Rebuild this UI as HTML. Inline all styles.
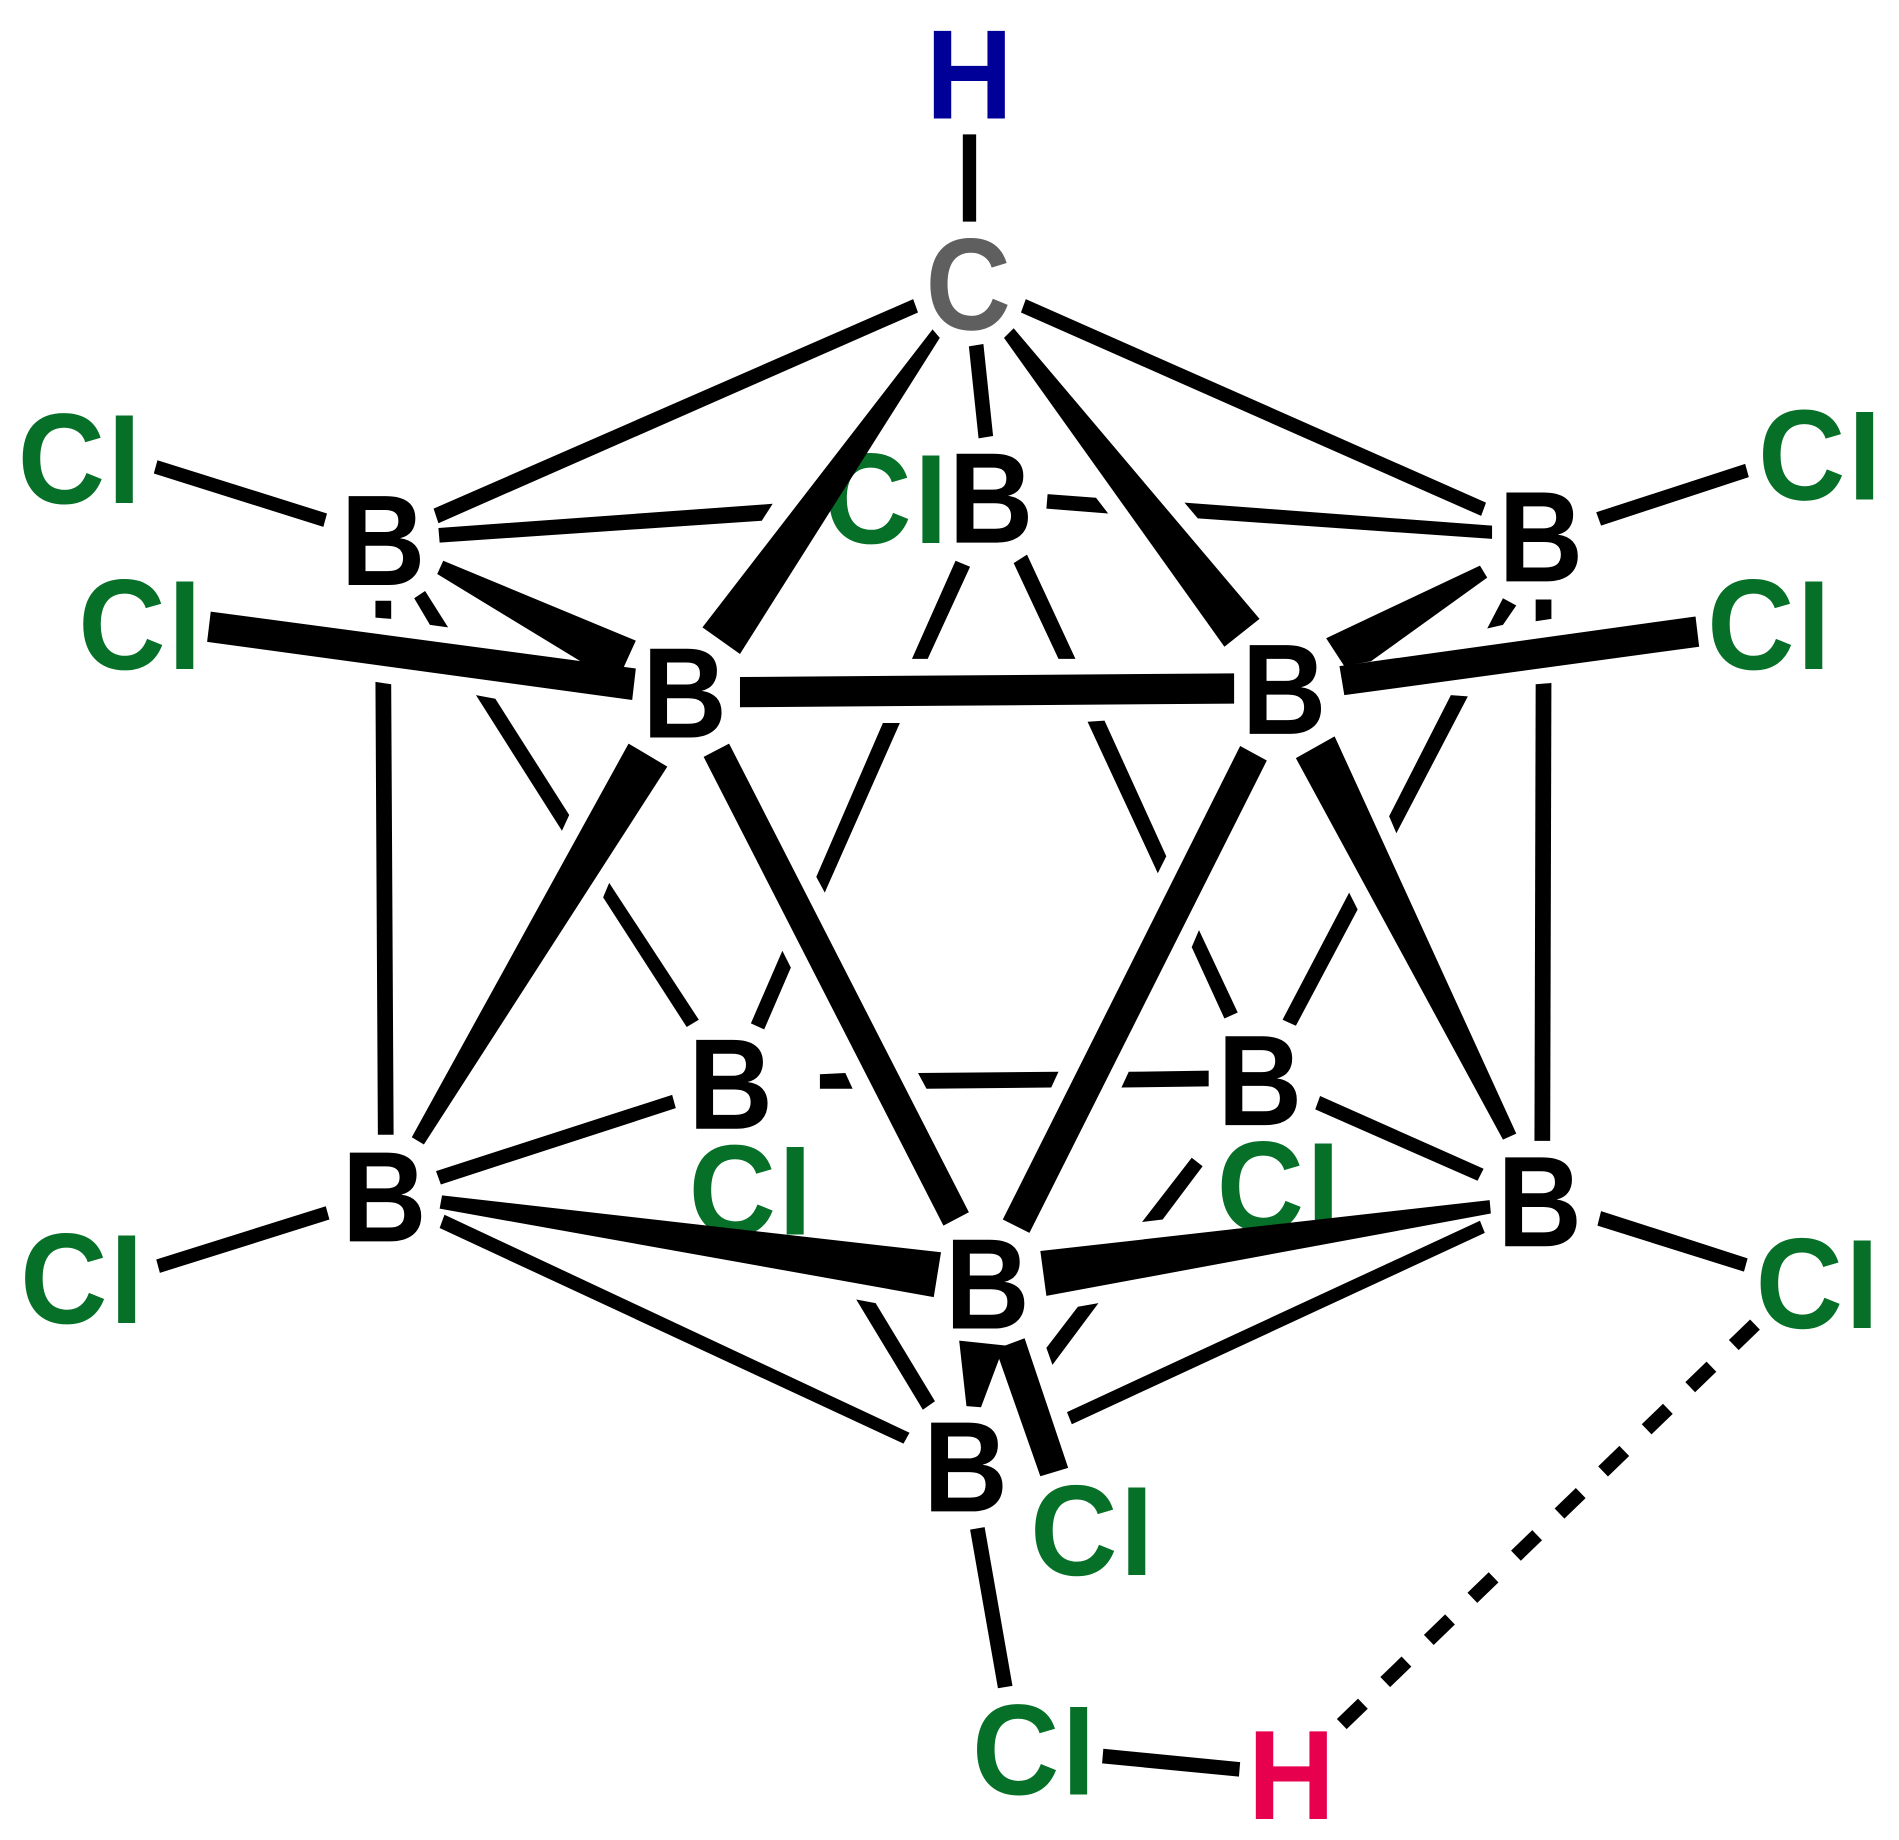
<!DOCTYPE html>
<html>
<head>
<meta charset="utf-8">
<style>
html,body{margin:0;padding:0;background:#fff;width:1899px;height:1840px;overflow:hidden}
svg{display:block}
text{font-family:"Liberation Sans",Arial,sans-serif;font-weight:700;font-size:105px}
.b{fill:#000}.cl{fill:#067028}
.cl tspan{font-size:96px;stroke:#067028;stroke-width:1.6px}
</style>
</head>
<body>
<svg xmlns="http://www.w3.org/2000/svg" width="1899" height="1840" viewBox="0 0 1568 1519.3">
<rect x="0" y="0" width="1568" height="1520" fill="#fff"/>
<text class="cl" transform="translate(680.65,448.5) scale(.95,1.015)">C<tspan x="79.3" y="-0.8">l</tspan></text>
<text class="cl" transform="translate(568.65,1019.5) scale(.95,1.015)">C<tspan x="79.3" y="-0.8">l</tspan></text>
<text class="cl" transform="translate(1004.65,1016.5) scale(.95,1.015)">C<tspan x="79.3" y="-0.8">l</tspan></text>
<g fill="#000">
<polygon points="795,111 806,111 806,183 795,183"/>
<polygon points="754,247 758,258 362,432 358,420"/>
<polygon points="847,247 843,258 1223,426 1227,415"/>
<polygon points="770,272 776,279 611,540 580,518"/>
<polygon points="837,271 829,279 1011,534 1040,511"/>
<polygon points="800,286 812,284 820,360 808,362"/>
<polygon points="362,436 638,416 629,430 363,448"/>
<polygon points="865,408 905,411 915,424 864,420"/>
<polygon points="978,415 1232,434 1232,445 989,428"/>
<polygon points="130,380 127,391 267,435 270,424"/>
<polygon points="1318,423 1322,434 1444,394 1441,383"/>
<polygon points="366,463 525,529 515,551 481,547 361,474"/>
<polygon points="174,505 525,552 522,578 171,530"/>
<polygon points="310,496 323,496 323,511 310,510"/>
<polygon points="342,494 351,488 370,518 355,516"/>
<polygon points="310,563 323,565 325,937 312,937"/>
<polygon points="393,574 409,577 470,673 464,686"/>
<polygon points="503,729 577,842 567,848 498,741"/>
<polygon points="519,614 551,633 350,945 340,939"/>
<polygon points="602,614 581,625 779,1012 800,1001"/>
<polygon points="611,559 1019,556 1019,581 611,584"/>
<polygon points="789,463 801,468 766,544 753,544"/>
<polygon points="848,458 837,465 874,544 888,544"/>
<polygon points="729,597 743,597 681,737 674,724"/>
<polygon points="898,596 912,595 963,707 956,721"/>
<polygon points="646,785 653,799 631,850 620,845"/>
<polygon points="990,768 984,782 1011,841 1022,836"/>
<polygon points="1024,616 1046,628 850,1018 828,1007"/>
<polygon points="1102,608 1070,626 1241,941 1252,936"/>
<polygon points="1268,565 1281,564 1280,942 1267,942"/>
<polygon points="1241,494 1252,500 1241,516 1228,519"/>
<polygon points="1268,495 1281,495 1281,511 1268,513"/>
<polygon points="1222,467 1228,477 1132,546 1110,550 1095,527"/>
<polygon points="1400,509 1403,534 1110,574 1106,550"/>
<polygon points="1198,574 1212,575 1153,688 1147,674"/>
<polygon points="1114,737 1121,751 1070,847 1059,842"/>
<polygon points="677,887 698,886 704,899 677,899"/>
<polygon points="758,886 874,885 868,898 765,899"/>
<polygon points="932,885 998,884 998,897 926,898"/>
<polygon points="360,967 555,904 558,915 364,978"/>
<polygon points="1090,905 1225,965 1220,975 1086,916"/>
<polygon points="129,1040 269,996 272,1007 132,1051"/>
<polygon points="1322,1000 1443,1039 1440,1050 1319,1012"/>
<polygon points="365,987 777,1034 771,1071 363,998"/>
<polygon points="1230,991 859,1033 864,1070 1231,1002"/>
<polygon points="367,1003 751,1183 746,1192 363,1014"/>
<polygon points="1222,1008 1226,1018 885,1176 881,1166"/>
<polygon points="707,1073 723,1076 772,1157 762,1164"/>
<polygon points="890,1079 907,1076 869,1127 864,1113"/>
<polygon points="984,956 993,963 960,1007 943,1009"/>
<polygon points="792,1107 830,1111 846,1105 882,1212 859,1219 825,1122 810,1162 798,1161"/>
<polygon points="801,1263 813,1261 836,1392 824,1394"/>
<polygon points="911,1444 1024,1455 1023,1467 910,1456"/>
</g>
<line x1="1449.1" y1="1093.7" x2="1107.9" y2="1423.6" stroke="#000" stroke-width="11.6" stroke-dasharray="24.36 25.68"/>
<text fill="#000099" transform="translate(764.35,98) scale(.95,1)">H</text>
<text fill="#5f5f5f" transform="translate(764.2,272) scale(.93,1.03)">C</text>
<text class="b" transform="translate(783.4,448) scale(.92,1.015)">B</text>
<text class="b" transform="translate(281.4,483) scale(.92,1.015)">B</text>
<text class="b" transform="translate(530.4,609) scale(.92,1.015)">B</text>
<text class="b" transform="translate(1025.4,606) scale(.92,1.015)">B</text>
<text class="b" transform="translate(1237.4,480) scale(.92,1.015)">B</text>
<text class="b" transform="translate(568.4,932) scale(.92,1.015)">B</text>
<text class="b" transform="translate(1005.4,929) scale(.92,1.015)">B</text>
<text class="b" transform="translate(282.4,1025) scale(.92,1.015)">B</text>
<text class="b" transform="translate(1236.4,1029) scale(.92,1.015)">B</text>
<text class="b" transform="translate(780.4,1097) scale(.92,1.015)">B</text>
<text class="b" transform="translate(762.4,1248) scale(.92,1.015)">B</text>
<text class="cl" transform="translate(14.65,415.5) scale(.95,1.015)">C<tspan x="79.3" y="-0.8">l</tspan></text>
<text class="cl" transform="translate(64.65,552.5) scale(.95,1.015)">C<tspan x="79.3" y="-0.8">l</tspan></text>
<text class="cl" transform="translate(1451.65,412.5) scale(.95,1.015)">C<tspan x="79.3" y="-0.8">l</tspan></text>
<text class="cl" transform="translate(1409.65,552.5) scale(.95,1.015)">C<tspan x="79.3" y="-0.8">l</tspan></text>
<text class="cl" transform="translate(16.65,1092.5) scale(.95,1.015)">C<tspan x="79.3" y="-0.8">l</tspan></text>
<text class="cl" transform="translate(1449.65,1096.5) scale(.95,1.015)">C<tspan x="79.3" y="-0.8">l</tspan></text>
<text class="cl" transform="translate(850.65,1300.5) scale(.95,1.015)">C<tspan x="79.3" y="-0.8">l</tspan></text>
<text class="cl" transform="translate(802.65,1481.5) scale(.95,1.015)">C<tspan x="79.3" y="-0.8">l</tspan></text>
<text fill="#e6004e" transform="translate(1030.3,1502) scale(.95,1)">H</text>
</svg>
</body>
</html>
